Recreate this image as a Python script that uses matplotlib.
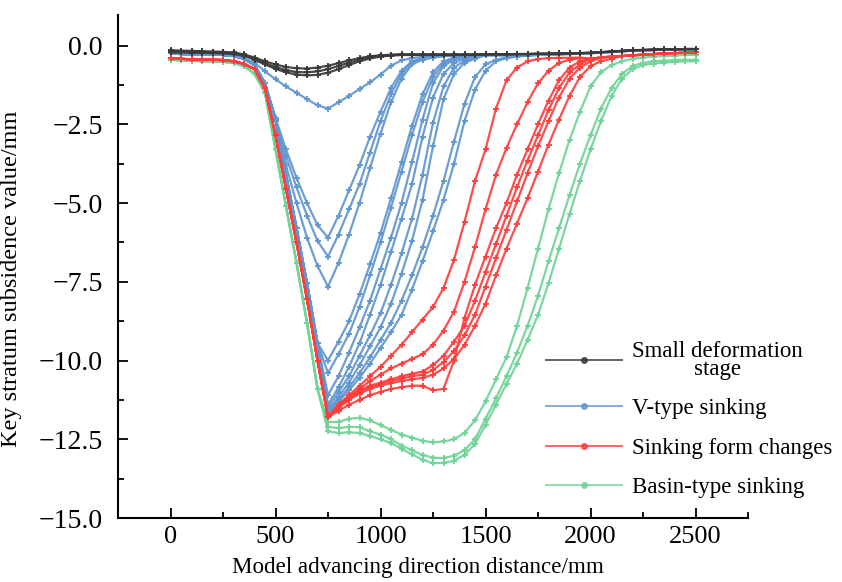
import matplotlib
matplotlib.use("Agg")
import matplotlib.pyplot as plt
from matplotlib.lines import Line2D
from matplotlib.ticker import MultipleLocator, FixedLocator, FixedFormatter
import numpy as np

plt.rcParams['font.family'] = ['Liberation Serif', 'DejaVu Serif']

# ---------------- data ----------------
x_mm = np.arange(0, 2501, 50)          # measuring positions, mm

x_ticks = [0, 500, 1000, 1500, 2000, 2500]
x_tick_labels = ["0", "500", "1000", "1500", "2000", "2500"]
y_ticks = [0.0, -2.5, -5.0, -7.5, -10.0, -12.5, -15.0]
y_tick_labels = ["0.0", "\u22122.5", "\u22125.0", "\u22127.5", "\u221210.0", "\u221212.5", "\u221215.0"]

series_names = ["Small deformation\nstage", "V-type sinking", "Sinking form changes", "Basin-type sinking"]

# small deformation stage (black)
black_end = [-0.28, -0.28, -0.28, -0.27, -0.27, -0.26, -0.26, -0.25, -0.25, -0.24,
             -0.23, -0.21, -0.19, -0.17, -0.15, -0.14, -0.13, -0.12, -0.12, -0.11, -0.11]
k1 = [-0.15, -0.16, -0.17, -0.18, -0.19, -0.2, -0.22, -0.28, -0.38, -0.5,
      -0.6, -0.68, -0.72, -0.73, -0.7, -0.64, -0.56, -0.47, -0.4, -0.34,
      -0.31, -0.29, -0.28, -0.28, -0.28, -0.28, -0.28, -0.28, -0.28, -0.28] + black_end
k2 = [-0.18, -0.19, -0.2, -0.2, -0.21, -0.22, -0.25, -0.3, -0.42, -0.56,
      -0.68, -0.78, -0.84, -0.85, -0.82, -0.75, -0.65, -0.54, -0.45, -0.37,
      -0.32, -0.3, -0.29, -0.29, -0.29, -0.29, -0.29, -0.29, -0.29, -0.29] + black_end
k3 = [-0.22, -0.22, -0.23, -0.23, -0.24, -0.25, -0.27, -0.32, -0.45, -0.6,
      -0.74, -0.85, -0.92, -0.95, -0.93, -0.86, -0.75, -0.62, -0.5, -0.41,
      -0.35, -0.32, -0.3, -0.3, -0.3, -0.3, -0.3, -0.3, -0.3, -0.3] + black_end

# V-type sinking (blue)
blue_start = [-0.25, -0.27, -0.28, -0.28, -0.28, -0.3, -0.33, -0.42, -0.62, -1.2]
blue_flank = [-2.35, -4.1, -5.8, -7.55, -9.45]
blue_end = [-0.3, -0.3, -0.3, -0.29, -0.28, -0.28, -0.27, -0.27, -0.26, -0.25,
            -0.24, -0.22, -0.2, -0.18, -0.16, -0.15, -0.14, -0.13, -0.13, -0.12, -0.12]
s0 = [-0.2, -0.2, -0.22, -0.22, -0.22, -0.25, -0.3, -0.4, -0.55, -0.82,
      -1.07, -1.3, -1.5, -1.7, -1.9, -2.0, -1.8, -1.6, -1.38, -1.17,
      -0.92, -0.64, -0.47, -0.4, -0.36, -0.34, -0.33, -0.32, -0.31, -0.31] + blue_end
v1 = blue_start + [-2.3, -3.3, -4.2, -5.0, -5.7, -6.1, -5.4, -4.6, -3.8, -2.9,
                   -2.1, -1.35, -0.8, -0.5, -0.4, -0.35, -0.33, -0.32, -0.31, -0.31] + blue_end
v2 = blue_start + [-2.35, -3.5, -4.5, -5.4, -6.2, -6.7, -6.0, -5.2, -4.4, -3.4,
                   -2.4, -1.55, -0.9, -0.55, -0.42, -0.36, -0.33, -0.32, -0.31, -0.31] + blue_end
v3 = blue_start + [-2.4, -3.8, -5.0, -6.1, -7.0, -7.65, -6.9, -6.0, -5.0, -3.9,
                   -2.8, -1.8, -1.05, -0.6, -0.45, -0.38, -0.34, -0.32, -0.31, -0.31] + blue_end
b1 = blue_start + blue_flank + [-10.0, -9.4, -8.75, -7.9, -6.95] + \
    [-5.95, -4.85, -3.7, -2.55, -1.55, -0.85, -0.5, -0.38, -0.34, -0.32] + blue_end
b2 = blue_start + blue_flank + [-10.4, -9.8, -9.15, -8.3, -7.3] + \
    [-6.25, -5.15, -4.0, -2.85, -1.8, -1.0, -0.58, -0.42, -0.36, -0.33] + blue_end
b3 = blue_start + blue_flank + [-11.1, -10.5, -9.75, -8.95, -8.1] + \
    [-7.1, -6.1, -5.0, -3.7, -2.35, -1.2, -0.65, -0.45, -0.38, -0.34] + blue_end
b4 = blue_start + blue_flank + [-11.4, -10.85, -10.2, -9.45, -8.55] + \
    [-7.6, -6.55, -5.5, -4.4, -2.9, -1.65, -0.9, -0.55, -0.42, -0.36] + blue_end
b5 = blue_start + blue_flank + [-11.5, -11.0, -10.5, -9.85, -9.2] + \
    [-8.5, -7.6, -6.6, -5.5, -4.1, -2.45, -1.3, -0.7, -0.48, -0.4] + blue_end
b6 = blue_start + blue_flank + [-11.6, -11.15, -10.7, -10.15, -9.55] + \
    [-8.95, -8.2, -7.25, -6.2, -4.9, -3.2, -1.7, -0.9, -0.55, -0.42] + blue_end
b7 = blue_start + blue_flank + [-11.65, -11.25, -10.85, -10.4, -9.9] + \
    [-9.35, -8.8, -8.1, -7.3, -6.4, -5.4, -4.3, -3.05, -1.85, -1.0] + \
    [-0.6, -0.45, -0.38, -0.34, -0.32, -0.3, -0.29, -0.28, -0.27, -0.26] + blue_end[10:]
b8 = blue_start + blue_flank + [-11.7, -11.3, -10.95, -10.55, -10.1] + \
    [-9.6, -9.1, -8.55, -7.75, -6.85, -5.9, -4.9, -3.75, -2.4, -1.4] + \
    [-0.8, -0.5, -0.4, -0.35, -0.32, -0.3, -0.29, -0.28, -0.27, -0.26] + blue_end[10:]

# sinking form changes (red)
red_start = [-0.4, -0.42, -0.44, -0.45, -0.45, -0.46, -0.5, -0.58, -0.75, -1.35]
red_flank = [-2.85, -4.55, -6.25, -8.05, -10.0]
red_end = [-0.42, -0.38, -0.35, -0.33, -0.31, -0.29, -0.27, -0.25, -0.24, -0.23, -0.22]
r1 = red_start + red_flank + [-11.8, -11.4, -11.1, -10.8, -10.5,
                              -10.2, -9.85, -9.5, -9.1, -8.7, -8.3, -7.7, -6.8, -5.6, -4.3,
                              -3.3, -2.0, -1.1, -0.7, -0.5, -0.43, -0.4, -0.39, -0.39, -0.38] + red_end
r2 = red_start + red_flank + [-11.8, -11.4, -11.15, -10.9, -10.65,
                              -10.45, -10.25, -10.1, -9.95, -9.8, -9.5, -9.05, -8.45, -7.5, -6.4,
                              -5.2, -4.1, -3.25, -2.5, -1.8, -1.2, -0.8, -0.55, -0.45, -0.4] + red_end
r3 = red_start + red_flank + [-11.8, -11.6, -11.4, -11.25, -11.1,
                              -11.0, -10.9, -10.85, -10.8, -10.8, -10.95, -10.9, -10.0, -8.65, -7.6,
                              -6.7, -5.8, -5.0, -4.1, -3.3, -2.5, -1.75, -1.1, -0.7, -0.5] + red_end
r4 = red_start + red_flank + [-11.8, -11.4, -11.15, -10.95, -10.8,
                              -10.7, -10.6, -10.5, -10.42, -10.35, -10.15, -9.85, -9.4, -8.9, -8.1,
                              -7.2, -6.3, -5.4, -4.5, -3.65, -2.85, -2.05, -1.35, -0.85, -0.6] + red_end
r5 = red_start + red_flank + [-11.8, -11.45, -11.2, -11.0, -10.85,
                              -10.75, -10.65, -10.57, -10.5, -10.45, -10.3, -10.05, -9.7, -9.2, -8.55,
                              -7.65, -6.75, -5.85, -4.95, -4.05, -3.2, -2.4, -1.65, -1.05, -0.7] + \
    [-0.5] + red_end[1:]
r6 = red_start + red_flank + [-11.8, -11.5, -11.25, -11.05, -10.9,
                              -10.8, -10.72, -10.65, -10.6, -10.55, -10.45, -10.25, -9.95, -9.5, -8.9,
                              -8.2, -7.3, -6.45, -5.65, -4.85, -4.0, -3.15, -2.35, -1.6, -1.0] + \
    [-0.65, -0.5, -0.42] + red_end[3:]

# basin-type sinking (green)
green_start = [-0.45, -0.47, -0.48, -0.5, -0.5, -0.52, -0.55, -0.65, -0.9, -1.5]
green_flank = [-3.3, -5.1, -6.9, -8.8, -10.9]
g1 = green_start + green_flank + [-11.95, -11.95, -11.85, -11.82, -11.9,
                                  -12.05, -12.2, -12.35, -12.45, -12.55, -12.6, -12.57, -12.5, -12.3, -11.9,
                                  -11.3, -10.6, -9.9, -8.9, -7.7, -6.45, -5.2, -4.05, -3.0, -2.1,
                                  -1.3, -0.85, -0.62, -0.5, -0.42, -0.38, -0.35, -0.33, -0.32, -0.3, -0.3]
g2 = green_start + green_flank + [-12.1, -12.15, -12.1, -12.12, -12.25,
                                  -12.35, -12.5, -12.7, -12.85, -13.0, -13.08, -13.1, -13.02, -12.85, -12.5,
                                  -11.85, -11.2, -10.5, -9.75, -8.9, -7.95, -6.85, -5.8, -4.75, -3.75,
                                  -2.85, -2.0, -1.35, -0.9, -0.65, -0.55, -0.5, -0.48, -0.46, -0.45, -0.45]
g3 = green_start + green_flank + [-12.25, -12.3, -12.28, -12.3, -12.4,
                                  -12.5, -12.62, -12.8, -12.98, -13.15, -13.26, -13.25, -13.18, -13.0, -12.65,
                                  -12.05, -11.4, -10.75, -10.1, -9.35, -8.55, -7.55, -6.45, -5.35, -4.3,
                                  -3.3, -2.4, -1.6, -1.05, -0.75, -0.62, -0.57, -0.54, -0.52, -0.5, -0.5]

black_series = [k1, k2, k3]
blue_series = [s0, v1, v2, v3, b1, b2, b3, b4, b5, b6, b7, b8]
red_series = [r1, r2, r3, r4, r5, r6]
green_series = [g1, g2, g3]

# ---------------- styling ----------------
C_BLACK = "#3a3a3a"
C_BLUE = "#6196d0"
C_RED = "#ff3d3d"
C_GREEN = "#70d398"

fig = plt.figure(figsize=(8.42, 5.82), dpi=100)
ax = fig.add_axes([118 / 842, 1 - 518 / 582, 630 / 842, 503 / 582])

def draw(group, color):
    for ys in group:
        ax.plot(x_mm, ys, color=color, lw=1.6, marker='P', ms=4.6, mew=0,
                alpha=0.92, solid_joinstyle='round', solid_capstyle='round')

draw(green_series, C_GREEN)
draw(blue_series, C_BLUE)
draw(red_series, C_RED)
draw(black_series, C_BLACK)

ax.set_xlim(-250, 2750)
ax.set_ylim(-15, 0.97)

for side in ("top", "right"):
    ax.spines[side].set_visible(False)
for side in ("left", "bottom"):
    ax.spines[side].set_linewidth(1.5)

ax.xaxis.set_major_locator(FixedLocator(x_ticks))
ax.xaxis.set_major_formatter(FixedFormatter(x_tick_labels))
ax.xaxis.set_minor_locator(MultipleLocator(250))
ax.yaxis.set_major_locator(FixedLocator(y_ticks))
ax.yaxis.set_major_formatter(FixedFormatter(y_tick_labels))
ax.yaxis.set_minor_locator(MultipleLocator(1.25))

ax.tick_params(which='both', direction='in', width=1.3)
ax.tick_params(which='major', length=7)
ax.tick_params(which='minor', length=4)
ax.tick_params(axis='x', which='major', pad=6, labelsize=19)
ax.tick_params(axis='y', which='major', pad=11, labelsize=20)

ax.set_xlabel("Model advancing direction distance/mm", fontsize=16.6)
ax.xaxis.set_label_coords(0.476, (518 - 557) / 503)
ax.xaxis.label.set_va('top')
ax.set_ylabel("Key stratum subsidence value/mm", fontsize=17.5)
ax.yaxis.set_label_coords(-0.152, 0.475)

handles = [Line2D([], [], color=c, lw=1.3, alpha=0.85, marker='o', ms=4)
           for c in (C_BLACK, C_BLUE, C_RED, C_GREEN)]
leg = ax.legend(handles, series_names, loc='upper left',
                bbox_to_anchor=(546 / 842, 1 - 341 / 582), bbox_transform=fig.transFigure,
                frameon=False, fontsize=16.5, handlelength=3.3, handletextpad=0.45,
                labelspacing=0.8, borderpad=0, borderaxespad=0)
for t in leg.get_texts():
    t.set_multialignment('center')
    t.set_linespacing(0.8)

fig.savefig("out.png", dpi=100)
